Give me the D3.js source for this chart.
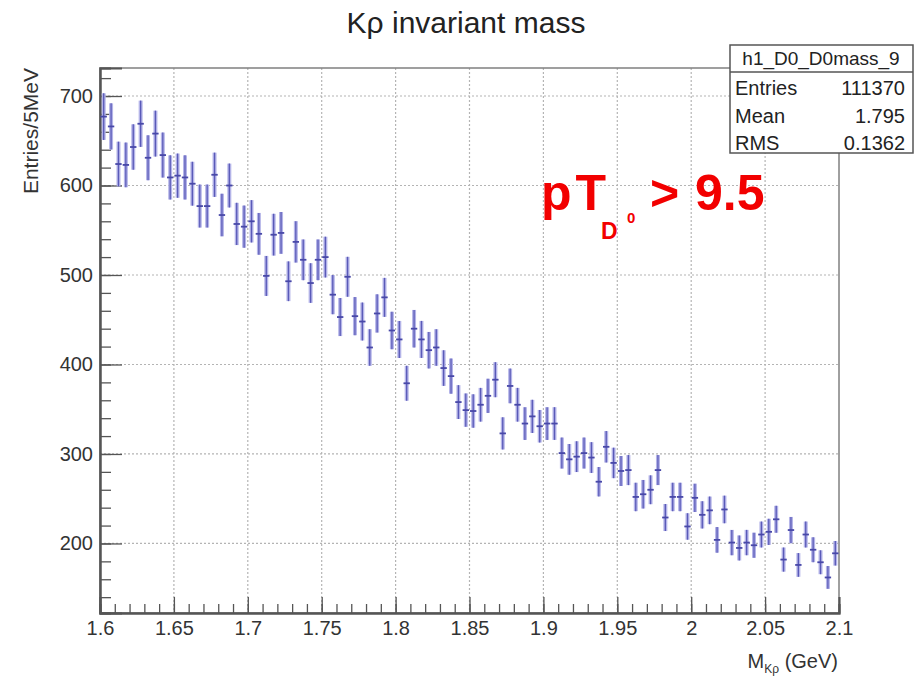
<!DOCTYPE html>
<html>
<head>
<meta charset="utf-8">
<script src="https://cdn.jsdelivr.net/npm/d3@7"></script>
<style>
  body { margin: 0; background: #fff; }
  svg text { font-family: "Liberation Sans", Arial, sans-serif; }
</style>
</head>
<body>
<svg id="chart" width="922" height="680"></svg>
<script>
// bin centres: 1.6 .. 2.1 GeV, 5 MeV bins
const binLow = 1.6;
const binWidth = 0.005;
const counts = [
  677, 666, 624, 623, 643, 669, 631, 658, 634, 609,
  611, 609, 602, 577, 577, 612, 567, 600, 557, 554,
  560, 546, 499, 545, 547, 493, 537, 517, 491, 517,
  520, 478, 453, 498, 454, 448, 419, 457, 475, 438,
  428, 379, 440, 428, 416, 419, 396, 387, 358, 349,
  348, 355, 365, 383, 323, 376, 355, 334, 342, 331,
  334, 334, 301, 294, 297, 301, 296, 269, 308, 290,
  281, 282, 252, 255, 260, 282, 229, 252, 252, 219,
  251, 232, 237, 204, 238, 201, 195, 201, 198, 210,
  213, 227, 182, 215, 176, 210, 193, 179, 162, 189
];
const xTicks = [1.6, 1.65, 1.7, 1.75, 1.8, 1.85, 1.9, 1.95, 2.0, 2.05, 2.1];
const yTicks = [200, 300, 400, 500, 600, 700];
const statsRows = [['Entries', '111370'], ['Mean', '1.795'], ['RMS', '0.1362']];

const svg = d3.select('#chart');
const frame = {left: 100, right: 839, top: 68, bottom: 613};

const x = d3.scaleLinear().domain([1.6, 2.1]).range([frame.left, frame.right]);
const y = d3.scaleLinear().domain([122.3, 731.3]).range([frame.bottom, frame.top]);

const xMinor = d3.range(0, 51).map(i => +(1.6 + i * 0.01).toFixed(2));
const yMinor = d3.range(140, 731, 20);

// grid
const grid = svg.append('g')
  .attr('stroke', '#b4b4b4')
  .attr('stroke-width', 1.2)
  .attr('stroke-dasharray', '2,2');
grid.selectAll('.gx').data(xTicks.slice(1, -1)).enter().append('line')
  .attr('x1', d => x(d)).attr('x2', d => x(d))
  .attr('y1', frame.top).attr('y2', frame.bottom);
grid.selectAll('.gy').data(yTicks).enter().append('line')
  .attr('x1', frame.left).attr('x2', frame.right)
  .attr('y1', d => y(d)).attr('y2', d => y(d));

// frame
svg.append('rect')
  .attr('x', frame.left).attr('y', frame.top)
  .attr('width', frame.right - frame.left).attr('height', frame.bottom - frame.top)
  .attr('fill', 'none').attr('stroke', '#808080').attr('stroke-width', 1.5);

// x axis, ticks pointing into the frame
const xAxisG = svg.append('g').attr('transform', `translate(0,${frame.bottom})`);
xAxisG.append('g').call(d3.axisBottom(x).tickValues(xMinor).tickSize(-9).tickFormat(''));
xAxisG.append('g').call(d3.axisBottom(x).tickValues(xTicks).tickSize(-16).tickPadding(8)
  .tickFormat(d => String(+d.toFixed(2))));
xAxisG.selectAll('line').attr('stroke', '#555').attr('stroke-width', 1.3);
xAxisG.selectAll('.domain').attr('stroke', '#555').attr('stroke-width', 2);
xAxisG.selectAll('text')
  .attr('font-size', 20).attr('fill', '#333')
  .attr('font-family', '"Liberation Sans", Arial, sans-serif');

// y axis
const yAxisG = svg.append('g').attr('transform', `translate(${frame.left},0)`);
yAxisG.append('g').call(d3.axisLeft(y).tickValues(yMinor).tickSize(-11).tickFormat(''));
yAxisG.append('g').call(d3.axisLeft(y).tickValues(yTicks).tickSize(-22).tickPadding(7));
yAxisG.selectAll('line').attr('stroke', '#555').attr('stroke-width', 1.3);
yAxisG.selectAll('.domain').attr('stroke', '#555').attr('stroke-width', 2);
yAxisG.selectAll('text')
  .attr('font-size', 20).attr('fill', '#333')
  .attr('font-family', '"Liberation Sans", Arial, sans-serif');

// data points with errors
const pts = svg.append('g');
const bins = counts.map((c, i) => ({lo: binLow + i * binWidth, c: c}));
pts.selectAll('.halo').data(bins).enter().append('line')
  .attr('x1', d => x(d.lo + binWidth / 2)).attr('x2', d => x(d.lo + binWidth / 2))
  .attr('y1', d => y(d.c - Math.sqrt(d.c))).attr('y2', d => y(d.c + Math.sqrt(d.c)))
  .attr('stroke', '#b4b4e8').attr('stroke-width', 4);
pts.selectAll('.err').data(bins).enter().append('line')
  .attr('x1', d => x(d.lo + binWidth / 2)).attr('x2', d => x(d.lo + binWidth / 2))
  .attr('y1', d => y(d.c - Math.sqrt(d.c))).attr('y2', d => y(d.c + Math.sqrt(d.c)))
  .attr('stroke', '#5a5ab8').attr('stroke-width', 1.3);
pts.selectAll('.mk').data(bins).enter().append('line')
  .attr('x1', d => x(d.lo) + 0.5).attr('x2', d => x(d.lo + binWidth) - 0.5)
  .attr('y1', d => y(d.c)).attr('y2', d => y(d.c))
  .attr('stroke', '#4848a8').attr('stroke-width', 1.8);

// title
svg.append('text')
  .attr('x', 466).attr('y', 33)
  .attr('text-anchor', 'middle')
  .attr('font-size', 30).attr('fill', '#222')
  .text('Kρ invariant mass');

// axis titles
svg.append('text')
  .attr('transform', 'translate(38,68) rotate(-90)')
  .attr('text-anchor', 'end')
  .attr('font-size', 21).attr('fill', '#333')
  .text('Entries/5MeV');

const xt = svg.append('text')
  .attr('x', 838).attr('y', 668)
  .attr('text-anchor', 'end')
  .attr('font-size', 20).attr('fill', '#333');
xt.append('tspan').text('M');
xt.append('tspan').attr('font-size', 12).attr('dy', 5).text('Kρ');
xt.append('tspan').attr('dy', -5).text(' (GeV)');

// stats box
const sb = svg.append('g');
sb.append('rect')
  .attr('x', 730).attr('y', 45).attr('width', 183).attr('height', 108)
  .attr('fill', '#fff').attr('stroke', '#555').attr('stroke-width', 1.5);
sb.append('line')
  .attr('x1', 730).attr('x2', 913).attr('y1', 72).attr('y2', 72)
  .attr('stroke', '#555').attr('stroke-width', 1.5);
sb.append('text')
  .attr('x', 821).attr('y', 65).attr('text-anchor', 'middle')
  .attr('font-size', 19).attr('fill', '#222')
  .text('h1_D0_D0mass_9');
statsRows.forEach((r, i) => {
  sb.append('text').attr('x', 735).attr('y', 95 + i * 27.5)
    .attr('font-size', 20).attr('fill', '#222').text(r[0]);
  sb.append('text').attr('x', 905).attr('y', 95 + i * 27.5)
    .attr('text-anchor', 'end')
    .attr('font-size', 20).attr('fill', '#222').text(r[1]);
});

// cut label
const red = svg.append('g')
  .attr('fill', '#f20000').attr('font-weight', 'bold');
red.append('text').attr('x', 541).attr('y', 210).attr('font-size', 50)
  .attr('letter-spacing', 4).text('pT');
red.append('text').attr('x', 601).attr('y', 239).attr('font-size', 23).text('D');
red.append('text').attr('x', 627).attr('y', 223).attr('font-size', 15).text('0');
red.append('text').attr('x', 650).attr('y', 210).attr('font-size', 50).text('>');
red.append('text').attr('x', 695).attr('y', 210).attr('font-size', 50).text('9.5');
</script>
</body>
</html>
